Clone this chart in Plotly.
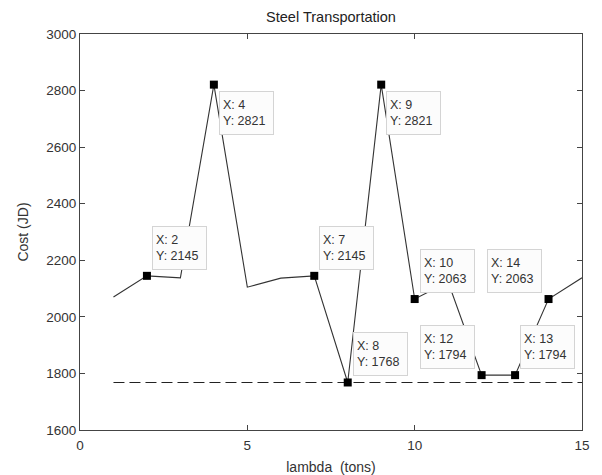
import plotly.graph_objects as go

lam = [1, 2, 3, 4, 5, 6, 7, 8, 9, 10, 11, 12, 13, 14, 15]
cost = [2070, 2145, 2138, 2821, 2105, 2137, 2145, 1768, 2821, 2063, 2123, 1794, 1794, 2063, 2138]
tip_x = [2, 4, 7, 8, 9, 10, 12, 13, 14]
# placement of each data tip: (x side, y side)
tip_side = {2: ("r", "up"), 4: ("r", "down"), 7: ("r", "up"), 8: ("r", "up"),
            9: ("r", "down"), 10: ("r", "up"), 12: ("l", "up"), 13: ("r", "up"),
            14: ("l", "up")}
ref_x = [1, 15]
ref_y = [1768, 1768]

tip_y = [cost[lam.index(v)] for v in tip_x]

FONT = "Liberation Sans, Arial"

fig = go.Figure()
fig.add_trace(go.Scatter(x=ref_x, y=ref_y, mode="lines",
                         line=dict(color="#222", width=1.2, dash="11px,5px"),
                         hoverinfo="skip"))
fig.add_trace(go.Scatter(x=lam, y=cost, mode="lines",
                         line=dict(color="#333", width=1.1)))
fig.add_trace(go.Scatter(x=tip_x, y=tip_y, mode="markers",
                         marker=dict(symbol="square", size=8, color="black")))

for xv, yv in zip(tip_x, tip_y):
    sx, sy = tip_side[xv]
    fig.add_annotation(
        x=xv, y=yv, xref="x", yref="y", showarrow=False,
        text=f"X: {xv}<br>Y: {yv}",
        xanchor="left" if sx == "r" else "right",
        yanchor="bottom" if sy == "up" else "top",
        xshift=5 if sx == "r" else -7,
        yshift=6 if sy == "up" else -6,
        width=47, height=36, borderpad=3, borderwidth=1,
        bordercolor="#d4d4d4", bgcolor="#fcfcfc", align="left", valign="middle",
        font=dict(family=FONT, size=12.5, color="#333"),
    )

axis_common = dict(showline=True, linecolor="#444", linewidth=1, mirror="ticks",
                   ticks="inside", ticklen=5, tickcolor="#444", showgrid=False,
                   zeroline=False, automargin=False,
                   tickfont=dict(family=FONT, size=13.5, color="#333"))

# page body has an 8px margin, so the figure is sized to fit the window
fig.update_layout(
    width=594, height=467,
    margin=dict(l=72, r=20, t=26, b=45),
    paper_bgcolor="white", plot_bgcolor="white",
    showlegend=False,
    title=dict(text="Steel Transportation", x=0.5, xanchor="center", xref="paper",
               y=1 - 9 / 467, yanchor="middle", automargin=False,
               font=dict(family=FONT, size=14.5, color="#222")),
    xaxis=dict(range=[0, 15], tickvals=[0, 5, 10, 15], ticklabelstandoff=3,
               title=dict(text="lambda  (tons)", standoff=11,
                          font=dict(family=FONT, size=14, color="#333")),
               **axis_common),
    yaxis=dict(range=[1600, 3000], tickvals=list(range(1600, 3001, 200)),
               title=dict(text="Cost (JD)", standoff=14,
                          font=dict(family=FONT, size=14, color="#333")),
               **axis_common),
)

fig.write_html("out.html")
